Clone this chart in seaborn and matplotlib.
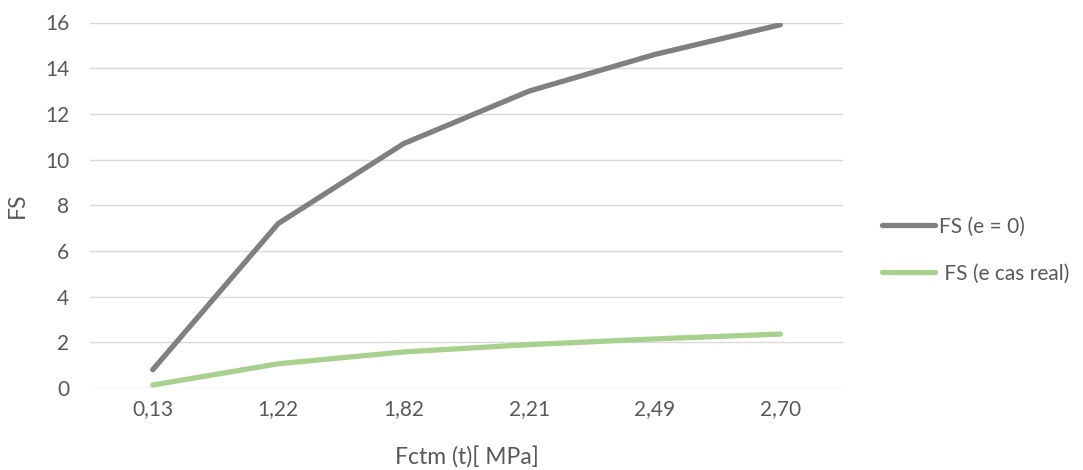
import matplotlib
matplotlib.use("Agg")
import matplotlib.pyplot as plt
import seaborn as sns
import pandas as pd

categories = ["0,13", "1,22", "1,82", "2,21", "2,49", "2,70"]
fs_e0 = [0.8, 7.2, 10.7, 13.0, 14.6, 15.9]
fs_real = [0.13, 1.06, 1.58, 1.9, 2.15, 2.36]
series_names = ["FS (e = 0)", " FS (e cas real)"]

sns.set_theme(style="white")
plt.rcParams['font.family'] = ['Lato', 'DejaVu Sans']
txt = "#595959"

df = pd.DataFrame({
    "x": categories * 2,
    "y": fs_e0 + fs_real,
    "serie": [series_names[0]] * len(categories) + [series_names[1]] * len(categories),
})

fig = plt.figure(figsize=(10.83, 4.70), dpi=100)
ax = fig.add_axes([90 / 1083, 1 - 388 / 470, (843 - 90) / 1083, (388 - 22.5) / 470])

sns.lineplot(data=df, x="x", y="y", hue="serie", palette=["#808080", "#A9D18E"],
             linewidth=3.8, ax=ax, legend=False, sort=False,
             solid_capstyle="round")

ax.set_xlim(-0.5, len(categories) - 0.5)
ax.set_ylim(0, 16)
ax.set_yticks(range(0, 17, 2))
ax.yaxis.grid(True, color="#D9D9D9", linewidth=1)
ax.set_axisbelow(True)
for s in ax.spines.values():
    s.set_visible(False)
ax.tick_params(axis="both", length=0, labelsize=15, labelcolor=txt)
ax.tick_params(axis="x", pad=8)
ax.tick_params(axis="y", pad=15)
ax.set_xlabel("Fctm (t)[ MPa]", fontsize=16.5, color=txt, labelpad=20)
ax.set_ylabel("FS", fontsize=16.5, color=txt, labelpad=12)

handles = [plt.Line2D([], [], color=c, linewidth=3.8, solid_capstyle="round")
           for c in ["#808080", "#A9D18E"]]
leg = fig.legend(handles, series_names, loc="center left",
                 bbox_to_anchor=(882 / 1083, 1 - 250 / 470), frameon=False,
                 fontsize=15, handlelength=2.55, handletextpad=0.2,
                 labelspacing=1.3, borderaxespad=0, borderpad=0)
for t in leg.get_texts():
    t.set_color(txt)

fig.savefig("out.png", dpi=100)
